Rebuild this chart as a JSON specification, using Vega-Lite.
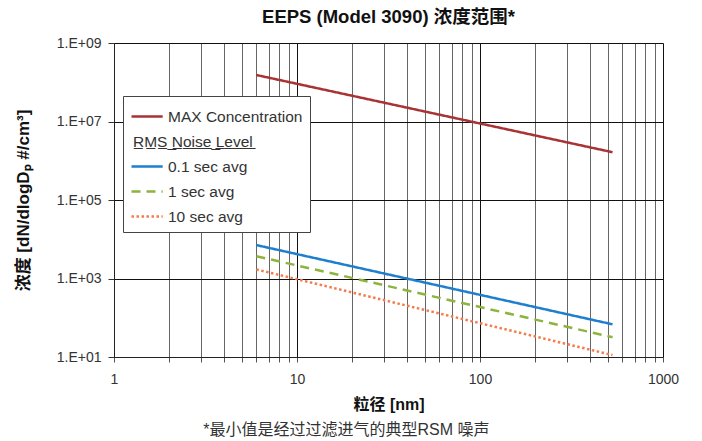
{
  "$schema": "https://vega.github.io/schema/vega-lite/v6.json",
  "background": "white",
  "padding": {"left": 14, "top": 7, "right": 5, "bottom": 5},
  "config": {
    "font": "'Liberation Sans', 'Noto Sans CJK SC'",
    "view": {"stroke": null},
    "concat": {"spacing": 0}
  },
  "title": {
    "text": "*最小值是经过过滤进气的典型RSM 噪声",
    "orient": "bottom",
    "anchor": "middle",
    "fontSize": 16,
    "fontWeight": "normal",
    "color": "#333",
    "font": "'Liberation Sans', 'Noto Sans CJK SC'",
    "offset": 10
  },
  "vconcat": [
    {
      "width": 549,
      "height": 314,
      "title": {
        "text": "EEPS (Model 3090) 浓度范围*",
        "fontSize": 18.5,
        "fontWeight": "bold",
        "color": "#111",
        "anchor": "middle",
        "offset": 10,
        "font": "'Liberation Sans', 'Noto Sans CJK SC'"
      },
      "data": {
        "values": [
          {"series": "MAX Concentration", "d": 6, "c": 153000000},
          {"series": "MAX Concentration", "d": 530, "c": 1650000},
          {"series": "0.1 sec avg", "d": 6, "c": 7100},
          {"series": "0.1 sec avg", "d": 530, "c": 68},
          {"series": "1 sec avg", "d": 6, "c": 3700},
          {"series": "1 sec avg", "d": 530, "c": 32},
          {"series": "10 sec avg", "d": 6, "c": 1700},
          {"series": "10 sec avg", "d": 530, "c": 11.2}
        ]
      },
      "mark": {"type": "line", "strokeWidth": 2.5, "clip": true},
      "encoding": {
        "x": {
          "field": "d",
          "type": "quantitative",
          "scale": {"type": "log", "domain": [1, 1000], "nice": false},
          "axis": {
            "title": "粒径 [nm]",
            "titleFontSize": 16,
            "titleFontWeight": "bold",
            "titleColor": "#111",
            "titlePadding": 10,
            "values": [1,2,3,4,5,6,7,8,9,10,20,30,40,50,60,70,80,90,100,200,300,400,500,600,700,800,900,1000],
            "labelExpr": "(datum.value==1||datum.value==10||datum.value==100||datum.value==1000) ? datum.label : ''",
            "format": "d",
            "labelFontSize": 14,
            "labelColor": "#333",
            "labelPadding": 10,
            "labelFlush": false,
            "labelOverlap": false,
            "tickSize": 5,
            "tickColor": "#555",
            "domainColor": "#222",
            "grid": true,
            "gridColor": {"condition": {"test": "datum.value==1||datum.value==10||datum.value==100||datum.value==1000", "value": "#111"}, "value": "#666"},
            "gridWidth": 1
          }
        },
        "y": {
          "field": "c",
          "type": "quantitative",
          "scale": {"type": "log", "domain": [10, 1000000000], "nice": false},
          "axis": {
            "title": "浓度 [dN/dlogDₚ  #/cm³]",
            "titleFontSize": 17,
            "titleFontWeight": "bold",
            "titleColor": "#111",
            "titlePadding": 24,
            "values": [10, 1000, 100000, 10000000, 1000000000],
            "labelExpr": "'1.E+0' + round(log(datum.value)/LN10)",
            "labelFontSize": 14,
            "labelColor": "#333",
            "labelPadding": 7,
            "tickSize": 6,
            "tickColor": "#333",
            "domainColor": "#222",
            "grid": true,
            "gridColor": "#111",
            "gridWidth": 1
          }
        },
        "color": {
          "field": "series",
          "type": "nominal",
          "scale": {
            "domain": ["MAX Concentration", "RMS Noise Level", "0.1 sec avg", "1 sec avg", "10 sec avg"],
            "range": ["#a83234", "rgba(0,0,0,0)", "#1f7fcf", "#8db43e", "#f47c4f"]
          },
          "legend": {
            "title": null,
            "orient": "none",
            "legendX": 9,
            "legendY": 53,
            "direction": "vertical",
            "symbolType": "M-1,0H1.6",
            "symbolSize": 576,
            "symbolStrokeWidth": 2.5,
            "symbolFillColor": "transparent",
            "labelFont": "'Liberation Sans', 'DejaVu Sans'",
            "labelFontSize": 15.5,
            "labelColor": "#333",
            "labelExpr": "datum.label == 'RMS Noise Level' ? 'R̲M̲S̲ ̲N̲o̲i̲s̲e̲ ̲L̲e̲v̲e̲l̲' : datum.label",
            "labelOffset": 11,
            "rowPadding": 3,
            "padding": 7,
            "fillColor": "white",
            "strokeColor": "#444",
            "encode": {
              "labels": {
                "update": {
                  "dx": {"signal": "datum.value == 'RMS Noise Level' ? -35 : 0"}
                }
              }
            }
          }
        },
        "strokeDash": {
          "field": "series",
          "type": "nominal",
          "scale": {
            "domain": ["MAX Concentration", "RMS Noise Level", "0.1 sec avg", "1 sec avg", "10 sec avg"],
            "range": [[1, 0], [1, 0], [1, 0], [9, 6], [2.5, 2.5]]
          },
          "legend": null
        }
      }
    }
  ]
}
